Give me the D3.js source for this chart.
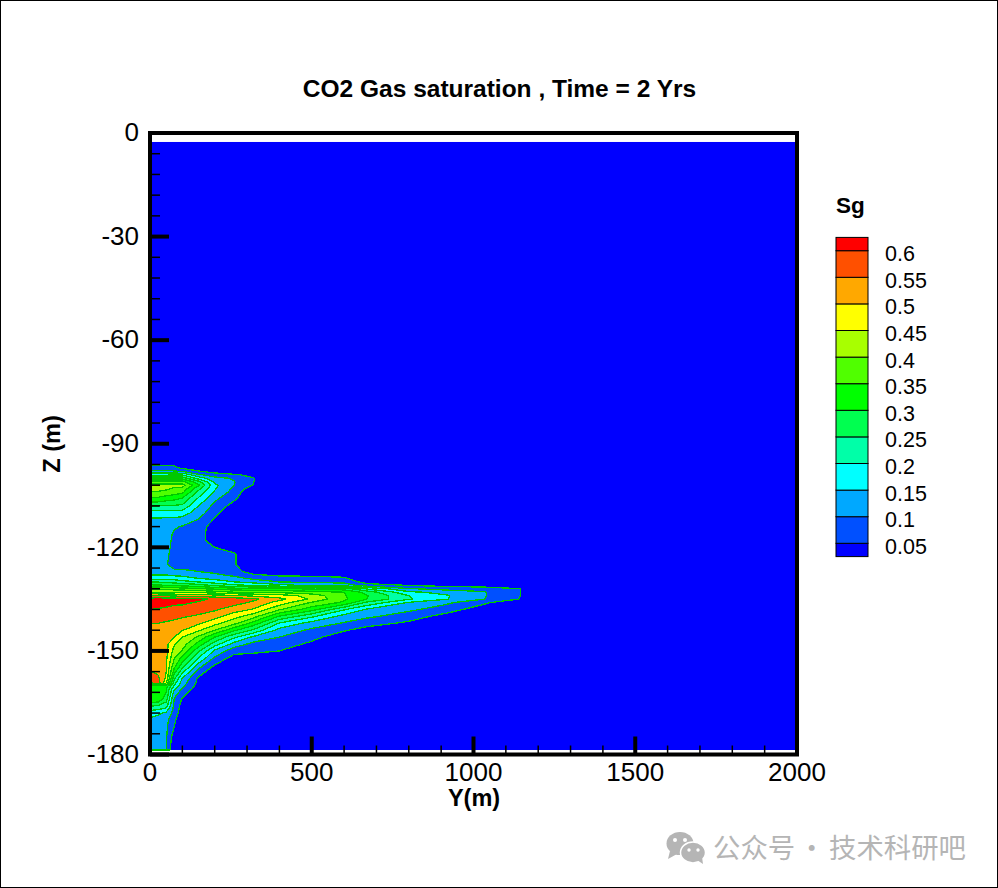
<!DOCTYPE html>
<html>
<head>
<meta charset="utf-8">
<style>
  html, body { margin: 0; padding: 0; background: #fff; }
  svg { display: block; }
  text { font-family: "Liberation Sans", Arial, sans-serif; fill: #000; }
</style>
<script src="https://cdn.jsdelivr.net/npm/d3@7/dist/d3.min.js"></script>
</head>
<body>
<div id="chart"></div>
<script>
// Contour levels of Sg and the colour of the band above each level
const sgLevels = [0.05, 0.1, 0.15, 0.2, 0.25, 0.3, 0.35, 0.4, 0.45, 0.5, 0.55, 0.6];
const levelLabels = ["0.05", "0.1", "0.15", "0.2", "0.25", "0.3", "0.35", "0.4", "0.45", "0.5", "0.55", "0.6"];
const levelColors = ["#0050ff", "#00a8ff", "#00ffff", "#00ffa8", "#00ff50", "#00ff00",
                     "#50ff00", "#a8ff00", "#ffff00", "#ffa800", "#ff5000", "#ff0000"];
const baseColor = "#0000ff";

// Extent of the simulated domain
const domainY = [0, 1994];
const domainZ = [-2.6, -178.7];

// Grid nodes, values
const yNodes = [0, 25, 50, 75, 100, 150, 200, 260, 320, 400, 500, 600, 670, 800, 915, 1030, 1140, 1250];
const zNodes = [-94, -96, -97, -98, -99, -100, -101, -102, -103, -104, -106, -108, -110, -112, -114, -116, -118,
                -120, -122, -125, -127, -128, -129, -130, -131, -132, -133, -134, -135, -136, -138, -140, -142,
                -144, -146, -148, -150, -152, -155, -158, -159.5, -160, -161, -162, -164, -166, -168, -170, -172,
                -175, -178.7];

// Sg by row (one per zNode), trailing zeros left out
const sgRows = [
  [],
  [.04, .04, .04, .04, .01],
  [.07, .07, .07, .065, .04, .02],
  [.115, .115, .11, .105, .098, .055, .03, .02],
  [.19, .19, .19, .195, .195, .11, .075, .055, .04],
  [.285, .285, .285, .285, .28, .18, .115, .095, .052],
  [.366, .366, .366, .365, .365, .265, .14, .102, .051],
  [.42, .42, .42, .415, .42, .31, .16, .102, .048],
  [.42, .42, .41, .39, .385, .265, .155, .09, .02],
  [.395, .395, .385, .375, .362, .235, .145, .08],
  [.34, .335, .32, .31, .29, .19, .11, .058],
  [.25, .25, .245, .245, .24, .15, .085, .03],
  [.18, .18, .175, .175, .175, .125, .065, .01],
  [.14, .14, .14, .14, .13, .097, .045],
  [.13, .13, .12, .105, .097, .07, .03],
  [.13, .13, .115, .095, .09, .065, .03],
  [.13, .13, .112, .092, .088, .065, .03, .01],
  [.13, .125, .11, .09, .085, .07, .05, .03],
  [.13, .125, .108, .085, .085, .08, .07, .055],
  [.13, .12, .104, .08, .085, .085, .075, .055],
  [.14, .135, .13, .11, .107, .10, .09, .065, .03, .02],
  [.15, .15, .15, .14, .138, .125, .108, .09, .055, .042, .04, .03],
  [.185, .185, .18, .18, .17, .15, .137, .115, .09, .07, .066, .06],
  [.25, .245, .24, .23, .217, .198, .177, .15, .13, .099, .09, .085, .03],
  [.31, .305, .30, .29, .286, .27, .24, .21, .195, .165, .138, .13, .07, .048, .035, .02, .02],
  [.40, .395, .39, .375, .37, .355, .34, .32, .31, .31, .293, .275, .195, .105, .08, .08, .052],
  [.45, .45, .45, .45, .45, .44, .425, .40, .40, .39, .37, .35, .28, .16, .135, .105, .052],
  [.56, .555, .55, .54, .535, .535, .52, .51, .49, .475, .43, .355, .305, .2, .155, .105, .052],
  [.62, .63, .625, .625, .62, .61, .593, .575, .56, .515, .44, .36, .30, .205, .153, .102, .05],
  [.64, .63, .62, .61, .61, .595, .58, .57, .54, .478, .395, .34, .24, .145, .11, .062],
  [.60, .595, .59, .585, .58, .57, .557, .525, .495, .405, .32, .205, .145, .11, .075, .02],
  [.58, .57, .565, .56, .556, .543, .52, .47, .42, .295, .21, .13, .11, .075, .03],
  [.55, .55, .545, .54, .525, .508, .467, .415, .33, .195, .13, .095, .07, .04],
  [.545, .54, .525, .52, .503, .458, .40, .31, .24, .132, .09, .055, .03, .01],
  [.54, .535, .52, .50, .45, .39, .30, .21, .14, .10, .065, .02],
  [.535, .53, .515, .455, .425, .33, .225, .13, .085, .075, .04],
  [.53, .525, .515, .43, .395, .26, .14, .07, .06, .05, .02],
  [.525, .52, .51, .405, .335, .20, .093, .03, .03, .02],
  [.54, .53, .505, .35, .25, .105, .03, .01, .01],
  [.585, .56, .49, .26, .147, .04, .01],
  [.61, .59, .44, .215, .12, .035],
  [.34, .34, .34, .195, .115, .03],
  [.32, .32, .30, .16, .095, .02],
  [.34, .33, .30, .13, .075, .01],
  [.35, .34, .27, .095, .045],
  [.25, .24, .22, .088, .03],
  [.17, .16, .14, .08, .02],
  [.14, .13, .115, .06, .01],
  [.13, .125, .11, .05],
  [.13, .12, .105, .02],
  [.13, .12, .102]
];

// Axis ticks
const yMajorTicks = [0, 500, 1000, 1500, 2000];
const yMinorTicks = d3.range(0, 2001, 100).filter(d => d % 500 !== 0);
const zMajorTicks = [0, -30, -60, -90, -120, -150, -180];
const zMinorTicks = d3.range(0, -181, -6).filter(d => d % 30 !== 0);

const width = 998, height = 888;

const svg = d3.select("#chart").append("svg")
  .attr("width", width)
  .attr("height", height);

svg.append("rect")
  .attr("x", 0.5).attr("y", 0.5)
  .attr("width", width - 1).attr("height", height - 1)
  .attr("fill", "#fff").attr("stroke", "#000");

const xScale = d3.scaleLinear().domain([0, 2000]).range([150, 797]);
const yScale = d3.scaleLinear().domain([0, -180]).range([133, 754.5]);

// d3.contours works in grid index space, these bring it back to Y and Z
const yFromIndex = d3.scaleLinear().domain(d3.range(yNodes.length)).range(yNodes).clamp(true);
const zFromIndex = d3.scaleLinear().domain(d3.range(zNodes.length)).range(zNodes).clamp(true);

const gridPath = d3.geoPath(d3.geoTransform({
  point: function (x, y) {
    this.stream.point(xScale(yFromIndex(x - 0.5)), yScale(zFromIndex(y - 0.5)));
  }
}));

const sgValues = sgRows.flatMap(row => yNodes.map((_, i) => row[i] || 0));

const contours = d3.contours()
  .size([yNodes.length, zNodes.length])
  .smooth(true)
  .thresholds(sgLevels)(sgValues);

const field = svg.append("g");

field.append("rect")
  .attr("x", xScale(domainY[0]))
  .attr("y", yScale(domainZ[0]))
  .attr("width", xScale(domainY[1]) - xScale(domainY[0]))
  .attr("height", yScale(domainZ[1]) - yScale(domainZ[0]))
  .attr("fill", baseColor);

field.selectAll("path")
  .data(contours)
  .join("path")
  .attr("d", gridPath)
  .attr("fill", (d, i) => levelColors[i])
  .attr("stroke", "#00c800")
  .attr("stroke-width", 1.3)
  .attr("stroke-linejoin", "bevel")
  .attr("shape-rendering", "crispEdges");

// Minor ticks first, then the frame, then the major ticks with their labels
const minorLeft = d3.axisLeft(yScale).tickValues(zMinorTicks).tickSize(-10).tickFormat("").offset(0);
const minorBottom = d3.axisBottom(xScale).tickValues(yMinorTicks).tickSize(-9).tickFormat("").offset(0);

svg.append("g").attr("transform", "translate(" + xScale(0) + ",0)").call(minorLeft)
  .call(g => g.select(".domain").remove())
  .selectAll("line").attr("stroke", "#000").attr("stroke-width", 1.5);

svg.append("g").attr("transform", "translate(0," + yScale(-180) + ")").call(minorBottom)
  .call(g => g.select(".domain").remove())
  .selectAll("line").attr("stroke", "#000").attr("stroke-width", 1.5);

svg.append("rect")
  .attr("x", xScale(0)).attr("y", yScale(0))
  .attr("width", xScale(2000) - xScale(0))
  .attr("height", yScale(-180) - yScale(0))
  .attr("fill", "none")
  .attr("stroke", "#000")
  .attr("stroke-width", 4);

const majorLeft = d3.axisLeft(yScale).tickValues(zMajorTicks).tickSize(-19).tickPadding(11).offset(0).tickFormat(d => String(d));
const majorBottom = d3.axisBottom(xScale).tickValues(yMajorTicks).tickSize(-18).tickPadding(8).offset(0).tickFormat(d => String(d));

const leftAxis = svg.append("g").attr("transform", "translate(" + xScale(0) + ",0)").call(majorLeft);
const bottomAxis = svg.append("g").attr("transform", "translate(0," + yScale(-180) + ")").call(majorBottom);

[leftAxis, bottomAxis].forEach(axis => {
  axis.select(".domain").remove();
  axis.selectAll("line").attr("stroke", "#000").attr("stroke-width", 4);
  axis.selectAll("text")
    .attr("fill", "#000")
    .style("font-family", '"Liberation Sans", Arial, sans-serif')
    .style("font-size", "26px");
});

// Titles
svg.append("text")
  .attr("x", 499.5).attr("y", 97)
  .attr("text-anchor", "middle")
  .style("font-size", "24.5px").style("font-weight", "bold")
  .text("CO2 Gas saturation , Time = 2 Yrs");

svg.append("text")
  .attr("x", 474).attr("y", 806)
  .attr("text-anchor", "middle")
  .style("font-size", "23.5px").style("font-weight", "bold")
  .text("Y(m)");

svg.append("text")
  .attr("transform", "translate(60,444) rotate(-90)")
  .attr("text-anchor", "middle")
  .style("font-size", "23.5px").style("font-weight", "bold")
  .text("Z (m)");

// Legend
const legendScale = d3.scaleLinear().domain([0.05, 0.6]).range([543.3, 250.7]);
const levelStep = 0.05;
const legend = svg.append("g");

legend.append("text")
  .attr("x", 836).attr("y", 213)
  .style("font-size", "22.5px").style("font-weight", "bold")
  .text("Sg");

const legendBands = [{ lo: sgLevels[0] - levelStep / 2, hi: sgLevels[0], color: baseColor }]
  .concat(sgLevels.map((d, i) => ({
    lo: d,
    hi: i < sgLevels.length - 1 ? sgLevels[i + 1] : d + levelStep / 2,
    color: levelColors[i]
  })));

legend.selectAll("rect")
  .data(legendBands)
  .join("rect")
  .attr("x", 836)
  .attr("y", d => legendScale(d.hi))
  .attr("width", 32)
  .attr("height", d => legendScale(d.lo) - legendScale(d.hi))
  .attr("fill", d => d.color)
  .attr("stroke", "#000")
  .attr("stroke-width", 1);

legend.selectAll(".level")
  .data(sgLevels)
  .join("text")
  .attr("class", "level")
  .attr("x", 885)
  .attr("y", d => legendScale(d) + 10.5)
  .style("font-size", "21.5px")
  .text((d, i) => levelLabels[i]);

// Watermark
const mark = svg.append("g").attr("fill", "#b5b5b5");
mark.append("ellipse").attr("cx", 680).attr("cy", 843.5).attr("rx", 13.5).attr("ry", 11.5);
mark.append("path").attr("d", "M670 851 L668 859 L677 854 Z");
mark.append("ellipse").attr("cx", 693).attr("cy", 852.5).attr("rx", 12.5).attr("ry", 10.5)
  .attr("stroke", "#fff").attr("stroke-width", 1.5);
mark.append("path").attr("d", "M697 860 L703 864 L702 857 Z");
[[675, 840, 2], [685, 840, 2], [689, 850, 1.7], [698, 850, 1.7]].forEach(e => {
  mark.append("circle").attr("cx", e[0]).attr("cy", e[1]).attr("r", e[2]).attr("fill", "#fff");
});

const watermark = svg.append("text")
  .attr("y", 858)
  .style("font-family", '"Noto Sans CJK SC", sans-serif')
  .style("font-size", "27.4px")
  .style("fill", "#b5b5b5");
watermark.append("tspan").attr("x", 713).text("公众号");
watermark.append("tspan").attr("x", 798).text("·");
watermark.append("tspan").attr("x", 829).text("技术科研吧");
</script>
</body>
</html>
